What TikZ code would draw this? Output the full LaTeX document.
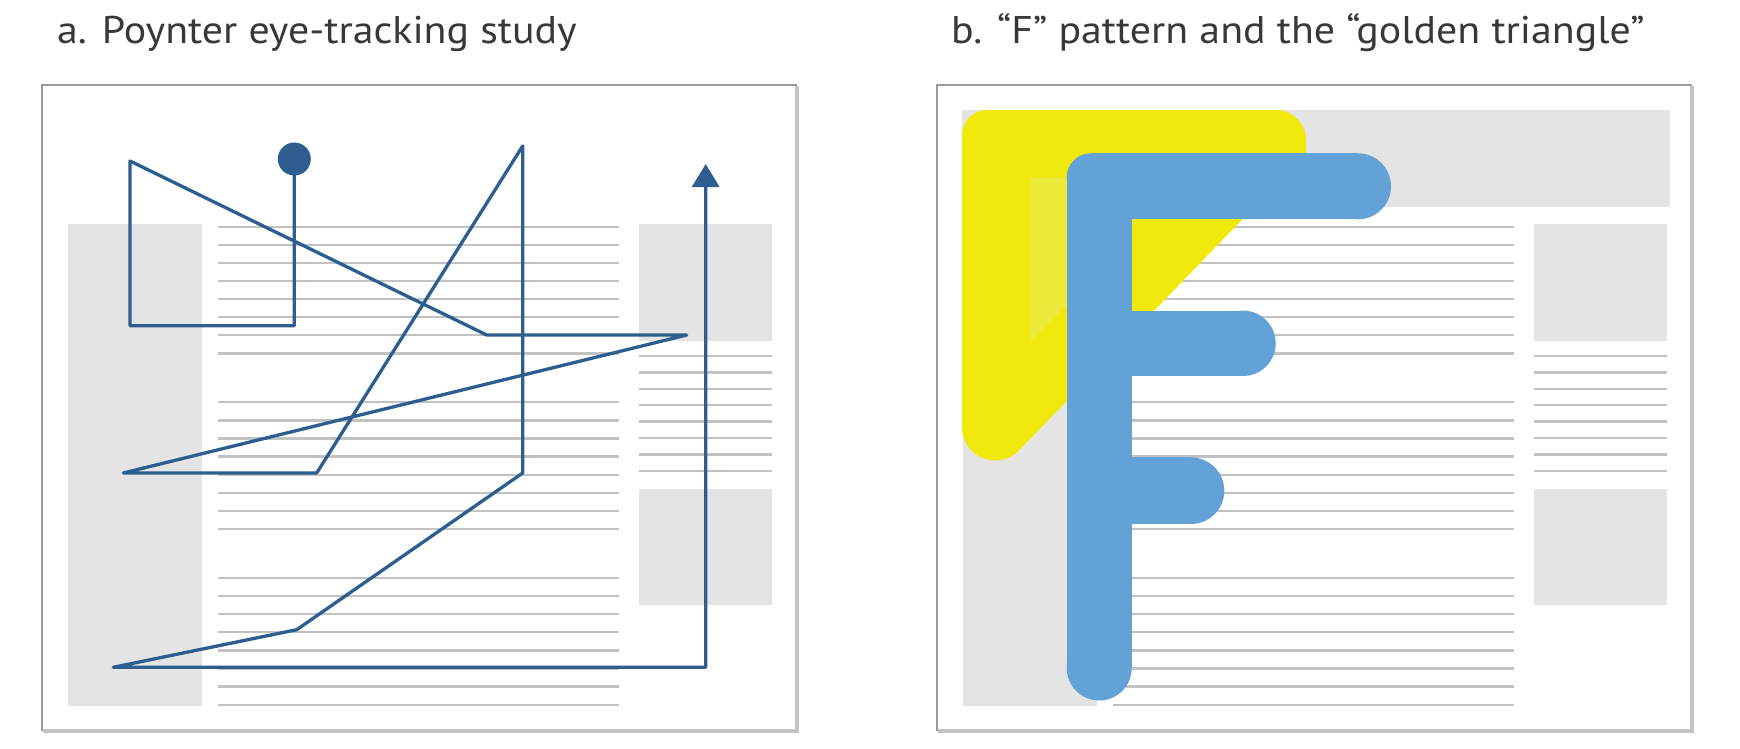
\documentclass[tikz,border=0pt]{standalone}
\usepackage{fontspec}
\setmainfont{PT Sans}
\usetikzlibrary{arrows.meta}
\definecolor{pathblue}{HTML}{2E5D8F}
\definecolor{fblue}{HTML}{63A2D7}
\definecolor{gyellow}{HTML}{F1E90B}
\definecolor{lyellow}{HTML}{EDE93A}
\definecolor{boxgray}{HTML}{E4E4E4}
\definecolor{rulegray}{HTML}{C2C2C2}
\definecolor{framegray}{HTML}{9A9A9A}
\definecolor{shadowgray}{HTML}{C4C4C4}
\definecolor{titlegray}{HTML}{383838}
\tikzset{
  box/.style={fill=boxgray},
  rule/.style={draw=rulegray,line width=2.3pt},
  frameline/.style={draw=framegray,line width=1.8pt},
  shadowline/.style={draw=shadowgray,line width=4pt},
  gaze/.style={draw=pathblue,line width=3.3pt,line join=round},
  fstroke/.style={fill=fblue},
  paneltitle/.style={anchor=base west,inner sep=0pt,text=titlegray,font=\fontsize{38.6}{42}\selectfont},
  pagebase/.pic={
    \fill[white] (41.7,85) rectangle (796.7,731.3);
    \fill[box] (68.3,224) rectangle (202.3,706.3);
    \fill[box] (639,224) rectangle (772.3,340.7);
    \fill[box] (639,489) rectangle (772.3,605);
    \foreach \yy in {226.7,402.3,578}{
      \foreach \k in {0,...,7}{
        \draw[rule] (218.3,{\yy+18.1*\k}) -- (619.3,{\yy+18.1*\k});
      }
    }
    \foreach \k in {0,...,7}{
      \draw[rule] (639,{356+16.4*\k}) -- (772.3,{356+16.4*\k});
    }
    \draw[shadowline] (796.7,86) -- (796.7,731.3) -- (42.5,731.3);
    \draw[frameline] (41.7,731.3) -- (41.7,85) -- (796.7,85);
  }
}
\newcommand{\widetitle}[1]{\scalebox{1.085}[1]{#1}}
\begin{document}
\begin{tikzpicture}[x=1pt,y=-1pt]
\useasboundingbox[fill=white] (0,0) rectangle (1740,748);

% titles
\node[paneltitle] (titleA) at (57,43.5) {\widetitle{a. Poynter eye-tracking study}};
\node[paneltitle] (titleB) at (951,43.5) {\widetitle{b. “F” pattern and the “golden triangle”}};

% page mock-ups
\pic at (0,0) {pagebase};
\pic at (895,0) {pagebase};

% ---------- panel a: gaze path ----------
\coordinate (p1) at (294.3,325.7);
\coordinate (p2) at (130,325.7);
\coordinate (p3) at (130,161);
\coordinate (p4) at (486.7,335);
\coordinate (p5) at (686.7,335);
\coordinate (p6) at (123.3,473);
\coordinate (p7) at (316.7,473);
\coordinate (p8) at (522.7,146);
\coordinate (p9) at (522.7,473);
\coordinate (p10) at (296.7,629.7);
\coordinate (p11) at (113.3,667.3);
\coordinate (p12) at (705.7,667.3);
\coordinate (p13) at (705.7,164);
\node[circle,fill=pathblue,minimum size=33pt,inner sep=0pt] (dot) at (294.3,159) {};
\draw[gaze,-{Triangle[length=23pt,width=27pt]}] (dot.center) -- (p1) -- (p2) -- (p3) -- (p4) -- (p5) -- (p6) -- (p7) -- (p8) -- (p9) -- (p10) -- (p11) -- (p12) -- (p13);

% ---------- panel b ----------
\fill[box] (961.7,110) rectangle (1670,206.7);
% golden triangle
\fill[gyellow] (962,135) .. controls (962,121.2) and (973.2,110) .. (987,110)
  -- (1276,110) .. controls (1292.6,110) and (1306,123.4) .. (1306,140)
  -- (1306,200) -- (1261.1,200) -- (1018.9,450.5)
  .. controls (1012.6,457.0) and (1004,460.4) .. (995,460.4)
  .. controls (976.7,460.4) and (962,445.7) .. (962,427.4) -- cycle;
\fill[lyellow] (1029.3,177.3) -- (1070,177.3) -- (1070,302) -- (1029.3,343.3) -- cycle;
% F
\fill[fstroke] (1066.7,177.3) rectangle (1131.7,668);
\fill[fstroke] (1099.2,668) circle (32.5pt);
\fill[fstroke] (1090.7,177.3) circle (24pt);
\fill[fstroke] (1090.7,153.3) rectangle (1358,219.3);
\fill[fstroke] (1358,186.3) circle (33pt);
\fill[fstroke] (1110,310.7) rectangle (1243,376);
\fill[fstroke] (1243,343.3) circle (32.7pt);
\fill[fstroke] (1110,457.3) rectangle (1191,524);
\fill[fstroke] (1191,490.7) circle (33.3pt);
\end{tikzpicture}
\end{document}
